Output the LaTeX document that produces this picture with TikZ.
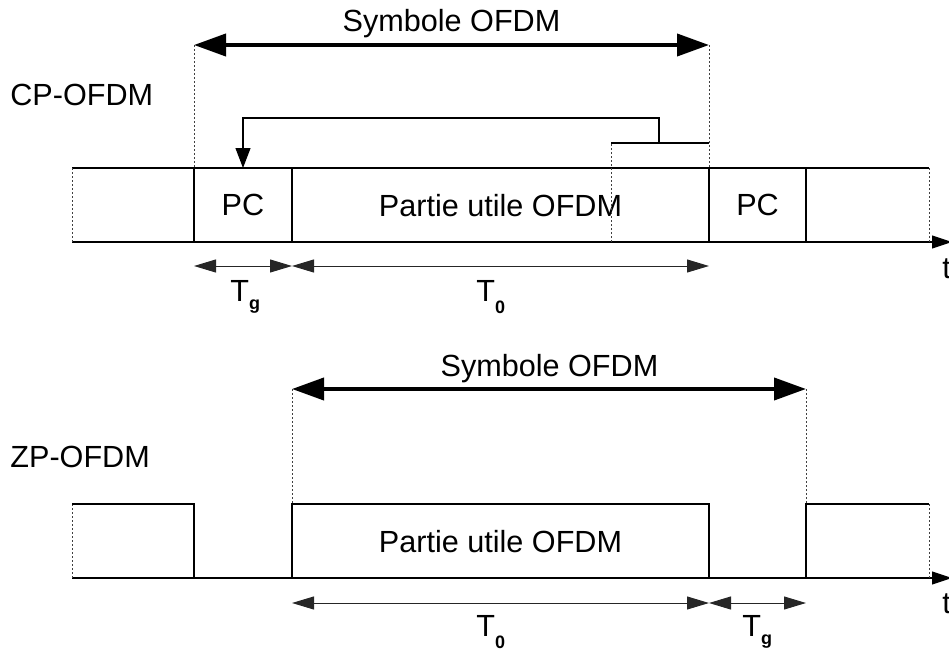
\documentclass[tikz,border=0pt]{standalone}
\usepackage{fontspec}
\setmainfont{Liberation Sans}
\usetikzlibrary{arrows.meta}
\newcommand{\subg}{\raisebox{-4.4pt}{\fontsize{9pt}{9pt}\selectfont\bfseries g}}
\newcommand{\subz}{\raisebox{-6pt}{\fontsize{9pt}{9pt}\selectfont\bfseries 0}}
\begin{document}
\begin{tikzpicture}[x=0.5pt,y=-0.5pt,
  solidline/.style={line width=0.55pt,black},
  dotline/.style={line width=0.5pt,black!75,dash pattern=on 1pt off 1pt},
  thickarrow/.style={line width=2pt,{Triangle[length=16pt,width=11pt]}-{Triangle[length=16pt,width=11pt]}},
  dimarrow/.style={line width=0.5pt,black!85,{Triangle[length=11pt,width=6.5pt]}-{Triangle[length=11pt,width=6.5pt]}},
  copyarrow/.style={line width=0.55pt,-{Triangle[length=10pt,width=7.5pt]}},
  axisarrow/.style={line width=0.55pt,-{Triangle[length=10pt,width=6.5pt]}},
  lbl/.style={inner sep=0pt,font=\fontsize{15.3pt}{18pt}\selectfont,anchor=base},
  lblw/.style={lbl,anchor=base west}]
\useasboundingbox (0,0) rectangle (949,653);

% ---------- CP-OFDM ----------
\foreach \n/\x in {L/72,A/194,B/292,C/709,D/806,R/929}{
  \coordinate (t\n) at (\x,168);
  \coordinate (b\n) at (\x,242);}
\coordinate (axT) at (952,242);
\draw[solidline] (tL) -- (tR);
\draw[axisarrow] (bL) -- (axT);
\draw[dotline] (tL) -- (bL);
\draw[dotline] (tR) -- (bR);
\foreach \n in {A,B,C,D}{\draw[solidline] (t\n) -- (b\n);}

\coordinate (sA) at (194,45);
\coordinate (sC) at (709,45);
\draw[dotline] (sA) -- (tA);
\draw[dotline] (sC) -- (tC);
\draw[thickarrow] (sA) -- (sC);
\node[lbl] (sym1) at (451.5,32) {Symbole OFDM};
\node[lblw] (cp) at (10,105) {CP-OFDM};

\node[lbl] (pc1) at (243,215) {PC};
\node[lbl] (pu1) at (500.5,216) {Partie utile OFDM};
\node[lbl] (pc2) at (757.5,215) {PC};

% copy of the end of the useful part
\coordinate (k1) at (611,242);
\coordinate (k2) at (611,143);
\coordinate (k3) at (709,143);
\coordinate (k4) at (659,143);
\coordinate (k5) at (659,118);
\coordinate (k6) at (243,118);
\coordinate (kT) at (243,168);
\draw[dotline] (k1) -- (k2);
\draw[solidline] (k2) -- (k3);
\draw[copyarrow] (k4) -- (k5) -- (k6) -- (kT);

% durations
\coordinate (g1) at (194,266);
\coordinate (g2) at (292,266);
\coordinate (g3) at (709,266);
\draw[dimarrow] (g1) -- (g2);
\draw[dimarrow] (g2) -- (g3);
\node[lblw] (tg1) at (230,301) {T\subg};
\node[lblw] (t01) at (476,301) {T\subz};
\node[lblw] (tt1) at (942,278) {t};

% ---------- ZP-OFDM ----------
\foreach \n/\x in {L/72,A/194,B/292,C/709,D/806,R/929}{
  \coordinate (u\n) at (\x,504);
  \coordinate (v\n) at (\x,578);}
\coordinate (axB) at (952,578);
\draw[axisarrow] (vL) -- (axB);
\draw[dotline] (uL) -- (vL);
\draw[solidline] (uL) -- (uA) -- (vA);
\draw[solidline] (vB) -- (uB) -- (uC) -- (vC);
\draw[solidline] (vD) -- (uD) -- (uR);
\draw[dotline] (uR) -- (vR);

\coordinate (zB) at (292,389);
\coordinate (zD) at (806,389);
\draw[dotline] (zB) -- (uB);
\draw[dotline] (zD) -- (uD);
\draw[thickarrow] (zB) -- (zD);
\node[lbl] (sym2) at (549.5,376) {Symbole OFDM};
\node[lblw] (zp) at (10,467) {ZP-OFDM};
\node[lbl] (pu2) at (500.5,552) {Partie utile OFDM};

\coordinate (h1) at (292,603);
\coordinate (h2) at (709,603);
\coordinate (h3) at (806,603);
\draw[dimarrow] (h1) -- (h2);
\draw[dimarrow] (h2) -- (h3);
\node[lblw] (t02) at (476,636) {T\subz};
\node[lblw] (tg2) at (742,636) {T\subg};
\node[lblw] (tt2) at (942,613) {t};
\end{tikzpicture}
\end{document}
